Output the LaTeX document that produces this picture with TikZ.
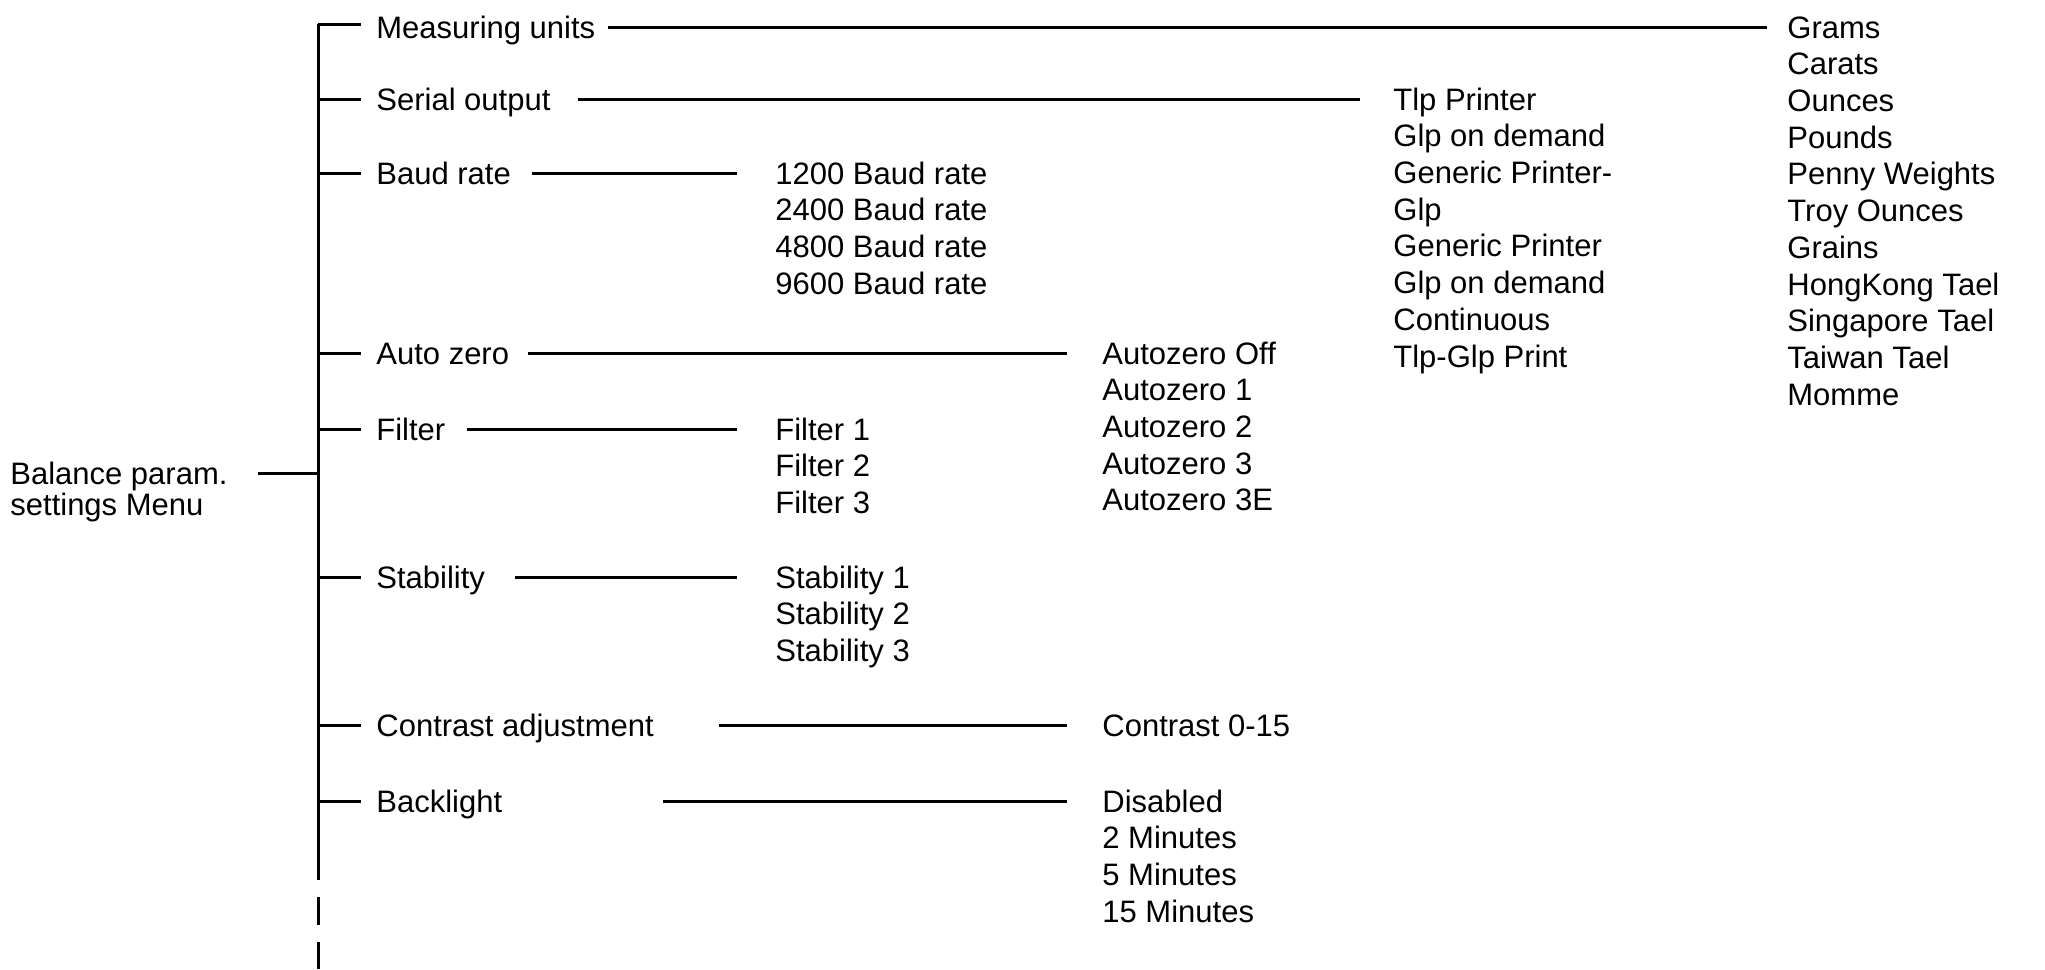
\documentclass[tikz,border=0pt]{standalone}
\usepackage{fontspec}
\setmainfont{Liberation Sans}
\begin{document}
\begin{tikzpicture}[x=0.5pt,y=-0.5pt,
  lbl/.style={inner sep=0pt, anchor=west, text height=11.1pt, text depth=0pt, font=\fontsize{15.5}{18.4}\selectfont},
  conn/.style={line width=1.5pt}]
\useasboundingbox (0,0) rectangle (2045,969);
% root
\node[lbl] (root1) at (10,473) {Balance param.};
\node[lbl] (root2) at (10,504) {settings Menu};
% trunk
\coordinate (ttop) at (318,24);
\coordinate (tbot) at (318,880);
\coordinate (d1a) at (318,897);
\coordinate (d1b) at (318,925);
\coordinate (d2a) at (318,942);
\coordinate (d2b) at (318,969);
\draw[conn] (ttop) -- (tbot);
\draw[conn] (d1a) -- (d1b);
\draw[conn] (d2a) -- (d2b);
\draw[conn] (258,0 |- root1) -- (ttop |- root1);
% headers
\node[lbl] (mu) at (376,27) {Measuring units};
\node[lbl] (so) at (376,99) {Serial output};
\node[lbl] (br) at (376,173) {Baud rate};
\node[lbl] (az) at (376,353) {Auto zero};
\node[lbl] (fi) at (376,429) {Filter};
\node[lbl] (st) at (376,577) {Stability};
\node[lbl] (ca) at (376,725) {Contrast adjustment};
\node[lbl] (bl) at (376,801) {Backlight};
\draw[conn] (ttop) -- (361,0 |- ttop);
\foreach \h in {so,br,az,fi,st,ca,bl}
  \draw[conn] (ttop |- \h) -- (361,0 |- \h);
% lists
\foreach \t [count=\i from 0] in {Grams,Carats,Ounces,Pounds,Penny Weights,Troy Ounces,Grains,HongKong Tael,Singapore Tael,Taiwan Tael,Momme}
  \node[lbl] (u\i) at (1787,{27+36.7*\i}) {\t};
\foreach \t [count=\i from 0] in {Tlp Printer,Glp on demand,Generic Printer-,Glp,Generic Printer,Glp on demand,Continuous,Tlp-Glp Print}
  \node[lbl] (s\i) at (1393,{99+36.7*\i}) {\t};
\foreach \t [count=\i from 0] in {1200 Baud rate,2400 Baud rate,4800 Baud rate,9600 Baud rate}
  \node[lbl] (b\i) at (775,{173+36.7*\i}) {\t};
\foreach \t [count=\i from 0] in {Autozero Off,Autozero 1,Autozero 2,Autozero 3,Autozero 3E}
  \node[lbl] (a\i) at (1102,{353+36.7*\i}) {\t};
\foreach \t [count=\i from 0] in {Filter 1,Filter 2,Filter 3}
  \node[lbl] (f\i) at (775,{429+36.7*\i}) {\t};
\foreach \t [count=\i from 0] in {Stability 1,Stability 2,Stability 3}
  \node[lbl] (t\i) at (775,{577+36.7*\i}) {\t};
\node[lbl] (c0) at (1102,725) {Contrast 0-15};
\foreach \t [count=\i from 0] in {Disabled,2 Minutes,5 Minutes,15 Minutes}
  \node[lbl] (k\i) at (1102,{801+36.7*\i}) {\t};
% connectors
\draw[conn] (608,0 |- mu) -- (1767,0 |- u0);
\draw[conn] (578,0 |- so) -- (1360,0 |- s0);
\draw[conn] (532,0 |- br) -- (737,0 |- b0);
\draw[conn] (528,0 |- az) -- (1067,0 |- a0);
\draw[conn] (467,0 |- fi) -- (737,0 |- f0);
\draw[conn] (515,0 |- st) -- (737,0 |- t0);
\draw[conn] (719,0 |- ca) -- (1067,0 |- c0);
\draw[conn] (663,0 |- bl) -- (1067,0 |- k0);
\end{tikzpicture}
\end{document}
